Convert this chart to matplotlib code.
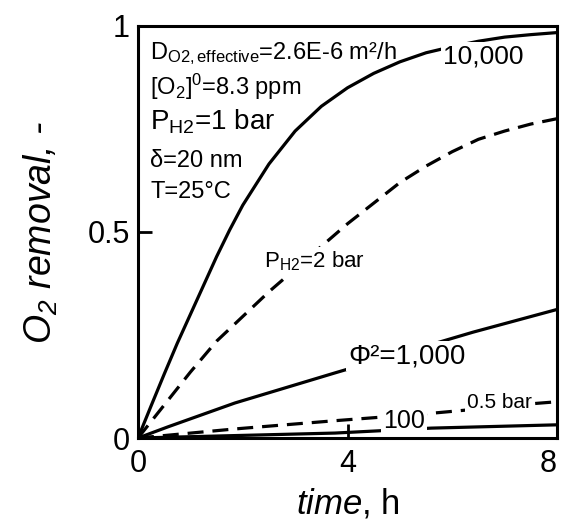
import matplotlib
matplotlib.use("Agg")
import matplotlib.pyplot as plt

plt.rcParams["font.family"] = ["Liberation Sans", "DejaVu Sans"]
plt.rcParams["mathtext.fontset"] = "custom"
plt.rcParams["mathtext.rm"] = "Liberation Sans"
plt.rcParams["mathtext.it"] = "Liberation Sans:italic"
plt.rcParams["mathtext.default"] = "regular"

# values (time in h, O2 removal fraction)
t_10000 = [0, 0.25, 0.5, 0.75, 1, 1.25, 1.5, 1.75, 2, 2.5, 3, 3.5, 4, 4.5, 5, 5.5, 6, 6.5, 7, 7.5, 8]
r_10000 = [0, 0.078, 0.155, 0.23, 0.30, 0.37, 0.44, 0.505, 0.565, 0.665, 0.745, 0.805, 0.85,
           0.885, 0.913, 0.935, 0.95, 0.963, 0.973, 0.979, 0.984]

t_2bar = [0, 0.5, 1, 1.5, 2, 2.5, 3, 3.5, 4, 4.5, 5, 5.5, 6, 6.5, 7, 7.5, 8]
r_2bar = [0, 0.08, 0.16, 0.235, 0.295, 0.355, 0.41, 0.465, 0.52, 0.57, 0.62, 0.66, 0.695,
          0.725, 0.745, 0.762, 0.775]

t_1000 = [0, 0.57, 1.85, 3.76, 6.4, 8]
r_1000 = [0, 0.027, 0.085, 0.158, 0.257, 0.312]

t_05bar = [0, 1.85, 3.76, 5.6, 6.2, 7.6, 8]
r_05bar = [0, 0.022, 0.042, 0.06, 0.067, 0.084, 0.088]

t_100 = [0, 3.76, 5.6, 8]
r_100 = [0, 0.012, 0.024, 0.032]

x_ticks = [0, 4, 8]
x_ticklabels = ["0", "4", "8"]
y_ticks = [0, 0.5, 1]
y_ticklabels = ["0", "0.5", "1"]

fig = plt.figure(figsize=(5.61, 5.25), dpi=100)
ax = fig.add_axes([0.246, 0.1657, 0.7469, 0.7848])

lw = 2.3
dash = (5, 2.8)
ax.plot(t_10000, r_10000, color="k", lw=lw)
ax.plot(t_2bar, r_2bar, color="k", lw=lw, dashes=dash)
ax.plot(t_1000, r_1000, color="k", lw=lw)
ax.plot(t_05bar, r_05bar, color="k", lw=lw, dashes=dash)
ax.plot(t_100, r_100, color="k", lw=lw)

ax.set_xlim(0, 8)
ax.set_ylim(0, 1)
ax.set_xticks(x_ticks)
ax.set_xticklabels(x_ticklabels)
ax.set_yticks(y_ticks)
ax.set_yticklabels(y_ticklabels)
ax.tick_params(direction="in", length=10, width=2, labelsize=22)
ax.tick_params(axis="x", pad=8)
ax.tick_params(axis="y", pad=6)
ax.get_xticklabels()[-1].set_horizontalalignment("right")
for sp in ax.spines.values():
    sp.set_linewidth(2.2)

ax.set_xlabel(r"$\mathit{time}$, h", fontsize=25, labelpad=5)
ax.set_ylabel(r"O$_2$ removal, -", fontsize=27, fontstyle="italic", labelpad=20)

# parameter block
ax.text(0.23, 0.92, r"D$_{O2,effective}$=2.6E-6 m²/h", fontsize=17)
ax.text(0.23, 0.833, r"[O$_2$]$^0$=8.3 ppm", fontsize=17)
ax.text(0.23, 0.748, r"P$_{H2}$=1 bar", fontsize=20)
ax.text(0.23, 0.658, "δ=20 nm", fontsize=17)
ax.text(0.23, 0.582, "T=25°C", fontsize=17)

box = dict(facecolor="white", edgecolor="none", pad=1.5)
ax.text(5.82, 0.91, "10,000", fontsize=19, bbox=box, zorder=5)
ax.text(2.4, 0.415, r"P$_{H2}$=2 bar", fontsize=16, bbox=box, zorder=5)
ax.text(4.01, 0.182, "Φ²=1,000", fontsize=20, bbox=box, zorder=5)
ax.text(6.28, 0.073, "0.5 bar", fontsize=15, bbox=box, zorder=5)
ax.text(4.68, 0.024, "100", fontsize=18, bbox=box, zorder=5)

fig.savefig("out.png", dpi=100)
